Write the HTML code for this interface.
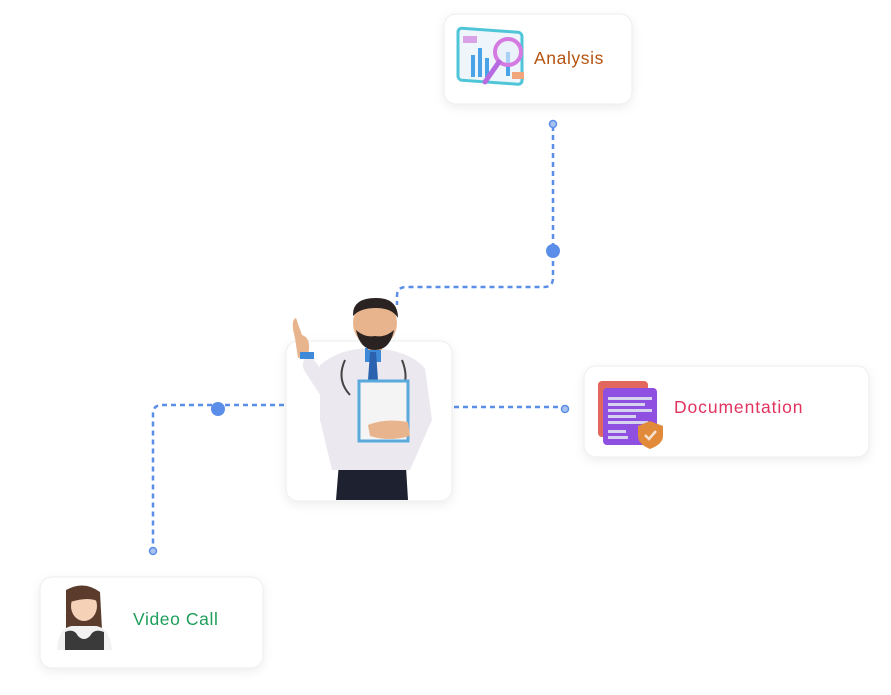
<!DOCTYPE html>
<html><head><meta charset="utf-8"><style>
html,body{margin:0;padding:0;background:#fff;width:891px;height:695px;overflow:hidden}
svg{display:block}
text{font-family:"Liberation Sans",sans-serif;font-size:17.5px;letter-spacing:0.6px}
</style></head><body>
<svg width="891" height="695" viewBox="0 0 891 695" xmlns="http://www.w3.org/2000/svg">
<defs>
<filter id="sh" x="-20%" y="-20%" width="140%" height="150%"><feDropShadow dx="0" dy="3" stdDeviation="5" flood-color="#000" flood-opacity="0.07"/></filter>
</defs>
<g fill="none" stroke="#5b8ee8" stroke-width="2.5" stroke-dasharray="5 4">
<path d="M553 126 V278 Q553 287 544 287 H406 Q397 287 397 296 V305"/>
<path d="M454 407 H563"/>
<path d="M284 405 H162 Q153 405 153 414 V549"/>
</g>
<circle cx="553" cy="124" r="3.5" fill="#a9c2f2" stroke="#5b8ee8" stroke-width="1.5"/>
<circle cx="553" cy="251" r="7" fill="#5b8ee8"/>
<circle cx="565" cy="409" r="3.5" fill="#a9c2f2" stroke="#5b8ee8" stroke-width="1.5"/>
<circle cx="218" cy="409" r="7" fill="#5b8ee8"/>
<circle cx="153" cy="551" r="3.5" fill="#a9c2f2" stroke="#5b8ee8" stroke-width="1.5"/>
<g fill="#fff" stroke="#eeeeee" stroke-width="1" filter="url(#sh)">
<rect x="444" y="14" width="188" height="90" rx="12"/>
<rect x="286" y="341" width="166" height="160" rx="12"/>
<rect x="584" y="366" width="285" height="91" rx="12"/>
<rect x="40" y="577" width="223" height="91" rx="12"/>
</g>
<rect x="458" y="32" width="64" height="52" rx="4" fill="#eef6fb" stroke="#4fc6d8" stroke-width="3" transform="skewY(4) translate(0,-36)"/>
<g fill="#4aa3e6"><rect x="471" y="55" width="4" height="22"/><rect x="478" y="48" width="4" height="29"/><rect x="485" y="58" width="4" height="19"/><rect x="506" y="52" width="4" height="24"/></g>
<rect x="463" y="36" width="14" height="7" fill="#d9a1e6"/>
<rect x="512" y="72" width="12" height="7" fill="#f0a57a"/>
<circle cx="508" cy="52" r="13" fill="#e7eefc" fill-opacity="0.6" stroke="#d57ae0" stroke-width="4"/>
<line x1="499" y1="62" x2="485" y2="82" stroke="#b86ae0" stroke-width="5" stroke-linecap="round"/>
<text x="534" y="64" fill="#b5520e">Analysis</text>
<rect x="598" y="381" width="50" height="56" rx="4" fill="#e2685d"/>
<rect x="603" y="388" width="54" height="57" rx="4" fill="#8f4fe0"/>
<g fill="#d6d3ef"><rect x="608" y="397" width="44" height="3"/><rect x="608" y="403" width="37" height="3"/><rect x="608" y="409" width="44" height="3"/><rect x="608" y="415" width="28" height="3"/><rect x="608" y="421" width="40" height="3"/><rect x="608" y="430" width="18" height="3"/><rect x="608" y="436" width="20" height="3"/></g>
<path d="M650 421 L663 426 V436 Q663 444 650 449 Q638 444 638 436 V426 Z" fill="#e08a3a"/>
<path d="M645 435 L649 439 L656 431" fill="none" stroke="#f5e2cf" stroke-width="2.5"/>
<text x="674" y="413" fill="#e0335f" style="letter-spacing:0.9px">Documentation</text>
<path d="M66 590 Q84 580 100 592 L102 630 L66 630 Z" fill="#5a3b2c"/>
<ellipse cx="84" cy="606" rx="13" ry="15" fill="#f4d1b7"/>
<path d="M70 602 Q72 586 86 588 Q100 590 99 602 Q90 596 70 602Z" fill="#5a3b2c"/>
<path d="M57 650 Q58 628 72 626 H96 Q110 628 112 650 Z" fill="#f2f2f2"/>
<path d="M65 650 V632 Q74 628 78 636 Q84 642 90 636 Q94 628 104 632 V650 Z" fill="#3a3a3a"/>
<text x="133" y="625" fill="#1e9e5a">Video Call</text>
<path d="M336 500 L340 450 H405 L408 500 Z" fill="#1e2230"/>
<path d="M320 365 Q340 348 372 348 Q408 350 425 368 L432 420 L410 470 H332 L320 420 Z" fill="#ebe9ef"/>
<path d="M310 355 Q300 360 304 370 L322 398 Q335 395 330 380 Z" fill="#ebe9ef"/>
<rect x="365" y="348" width="16" height="14" fill="#3e8ad8"/>
<path d="M370 352 L376 352 L378 380 L373 385 L368 380 Z" fill="#2b62b0"/>
<path d="M375 330 L375 350" stroke="#e8b48e" stroke-width="14"/>
<ellipse cx="375" cy="323" rx="22" ry="24" fill="#e8b48e"/>
<path d="M353 316 Q352 298 376 298 Q398 298 398 318 Q392 308 376 308 Q360 308 353 316 Z" fill="#2a2321"/>
<path d="M356 330 Q360 350 375 350 Q390 350 394 330 Q385 338 375 336 Q365 338 356 330 Z" fill="#2a2321"/>
<path d="M345 360 Q336 380 350 395 M402 360 Q410 380 400 392" fill="none" stroke="#444" stroke-width="2"/>
<rect x="359" y="381" width="49" height="60" fill="#f4f4f4" stroke="#5aa9dd" stroke-width="3"/>
<path d="M368 425 Q385 418 408 422 L410 436 Q388 442 370 436 Z" fill="#e8b48e"/>
<path d="M295 338 Q290 320 296 318 L302 335 Q312 338 308 356 L298 358 Z" fill="#e8b48e"/>
<rect x="300" y="352" width="14" height="7" fill="#3e8ad8"/>
</svg>
</body></html>
